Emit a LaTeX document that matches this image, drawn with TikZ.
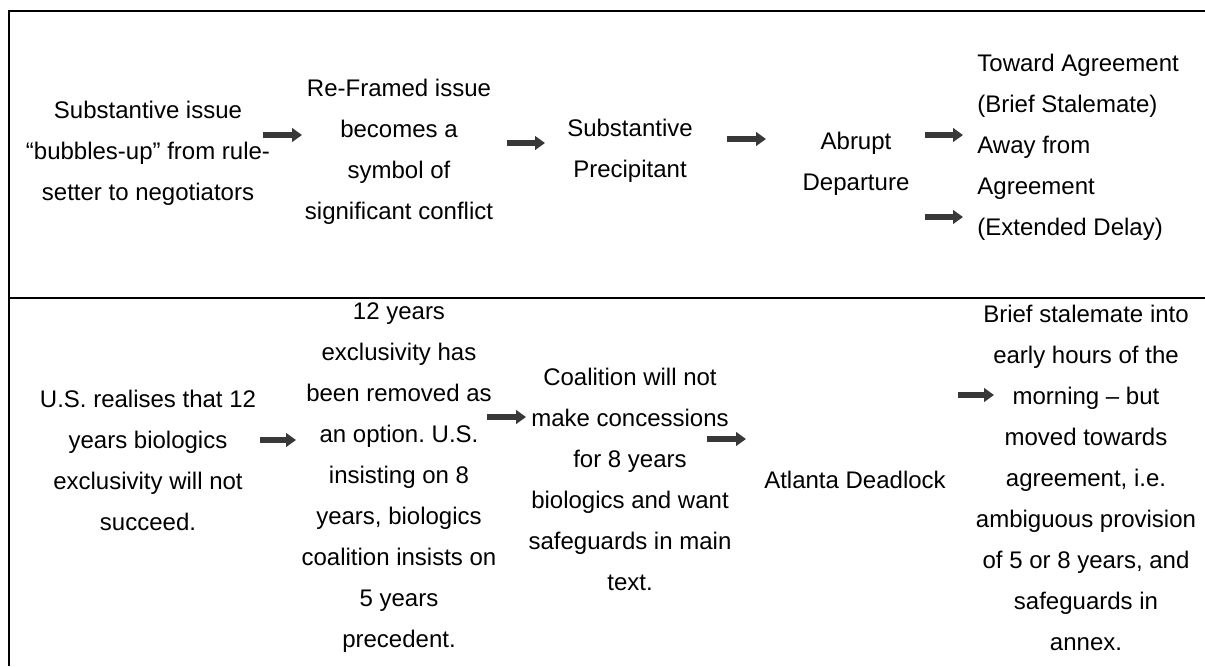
\documentclass[tikz,border=0pt]{standalone}
\usepackage{fontspec}
\setmainfont{Liberation Sans}
\frenchspacing
\usetikzlibrary{arrows.meta}
\tikzstyle{stage}=[align=center,inner sep=0pt,font=\fontsize{12}{20.5}\selectfont]
\tikzstyle{outcome}=[align=left,inner sep=0pt,anchor=west,font=\fontsize{12}{20.5}\selectfont]
\tikzstyle{flow}=[draw=black!78,line width=2.6pt,-{Triangle[length=5pt,width=6.8pt]}]
\tikzstyle{rule}=[line width=1pt]

\begin{document}
\begin{tikzpicture}[x=0.5pt,y=-0.5pt]
	\useasboundingbox (0,0) rectangle (1205,666);
	% frame
	\draw[rule] (1205,11) -- (9,11) -- (9,666);
	\draw[rule] (9,298) -- (1205,298);
	% model row
	\node (bubble) at (148,153) [stage] {Substantive issue\\“bubbles-up” from rule-\\setter to negotiators};
	\node (reframe) at (399,152) [stage] {Re-Framed issue\\becomes a\\symbol of\\significant conflict};
	\node (precip) at (630,151) [stage] {Substantive\\Precipitant};
	\node (abrupt) at (856,164) [stage] {Abrupt\\Departure};
	\node (paths) at (977,147) [outcome] {Toward Agreement\\(Brief Stalemate)\\Away from\\Agreement\\(Extended Delay)};
	% case row
	\node (realise) at (148,460) [stage] {U.S. realises that 12\\years biologics\\exclusivity will not\\succeed.};
	\node (removed) at (399,478) [stage] {12 years\\exclusivity has\\been removed as\\an option. U.S.\\insisting on 8\\years, biologics\\coalition insists on\\5 years\\precedent.};
	\node (coalition) at (630,479) [stage] {Coalition will not\\make concessions\\for 8 years\\biologics and want\\safeguards in main\\text.};
	\node (atlanta) at (855,480) [stage] {Atlanta Deadlock};
	\node (stalemate) at (1086,478) [stage] {Brief stalemate into\\early hours of the\\morning – but\\moved towards\\agreement, i.e.\\ambiguous provision\\of 5 or 8 years, and\\safeguards in\\annex.};
	% arrow ends
	\coordinate (m1a) at (263,135); \coordinate (m1b) at (302,135);
	\coordinate (m2a) at (507,143); \coordinate (m2b) at (545,143);
	\coordinate (m3a) at (727,139); \coordinate (m3b) at (766,139);
	\coordinate (m4a) at (925,135); \coordinate (m4b) at (963,135);
	\coordinate (m5a) at (925,217); \coordinate (m5b) at (963,217);
	\coordinate (c1a) at (260,440); \coordinate (c1b) at (296,440);
	\coordinate (c2a) at (487,417); \coordinate (c2b) at (526,417);
	\coordinate (c3a) at (707,439); \coordinate (c3b) at (746,439);
	\coordinate (c4a) at (958,395); \coordinate (c4b) at (994,395);
	\draw[flow] (m1a) -- (m1b);
	\draw[flow] (m2a) -- (m2b);
	\draw[flow] (m3a) -- (m3b);
	\draw[flow] (m4a) -- (m4b);
	\draw[flow] (m5a) -- (m5b);
	\draw[flow] (c1a) -- (c1b);
	\draw[flow] (c2a) -- (c2b);
	\draw[flow] (c3a) -- (c3b);
	\draw[flow] (c4a) -- (c4b);
\end{tikzpicture}
\end{document}
